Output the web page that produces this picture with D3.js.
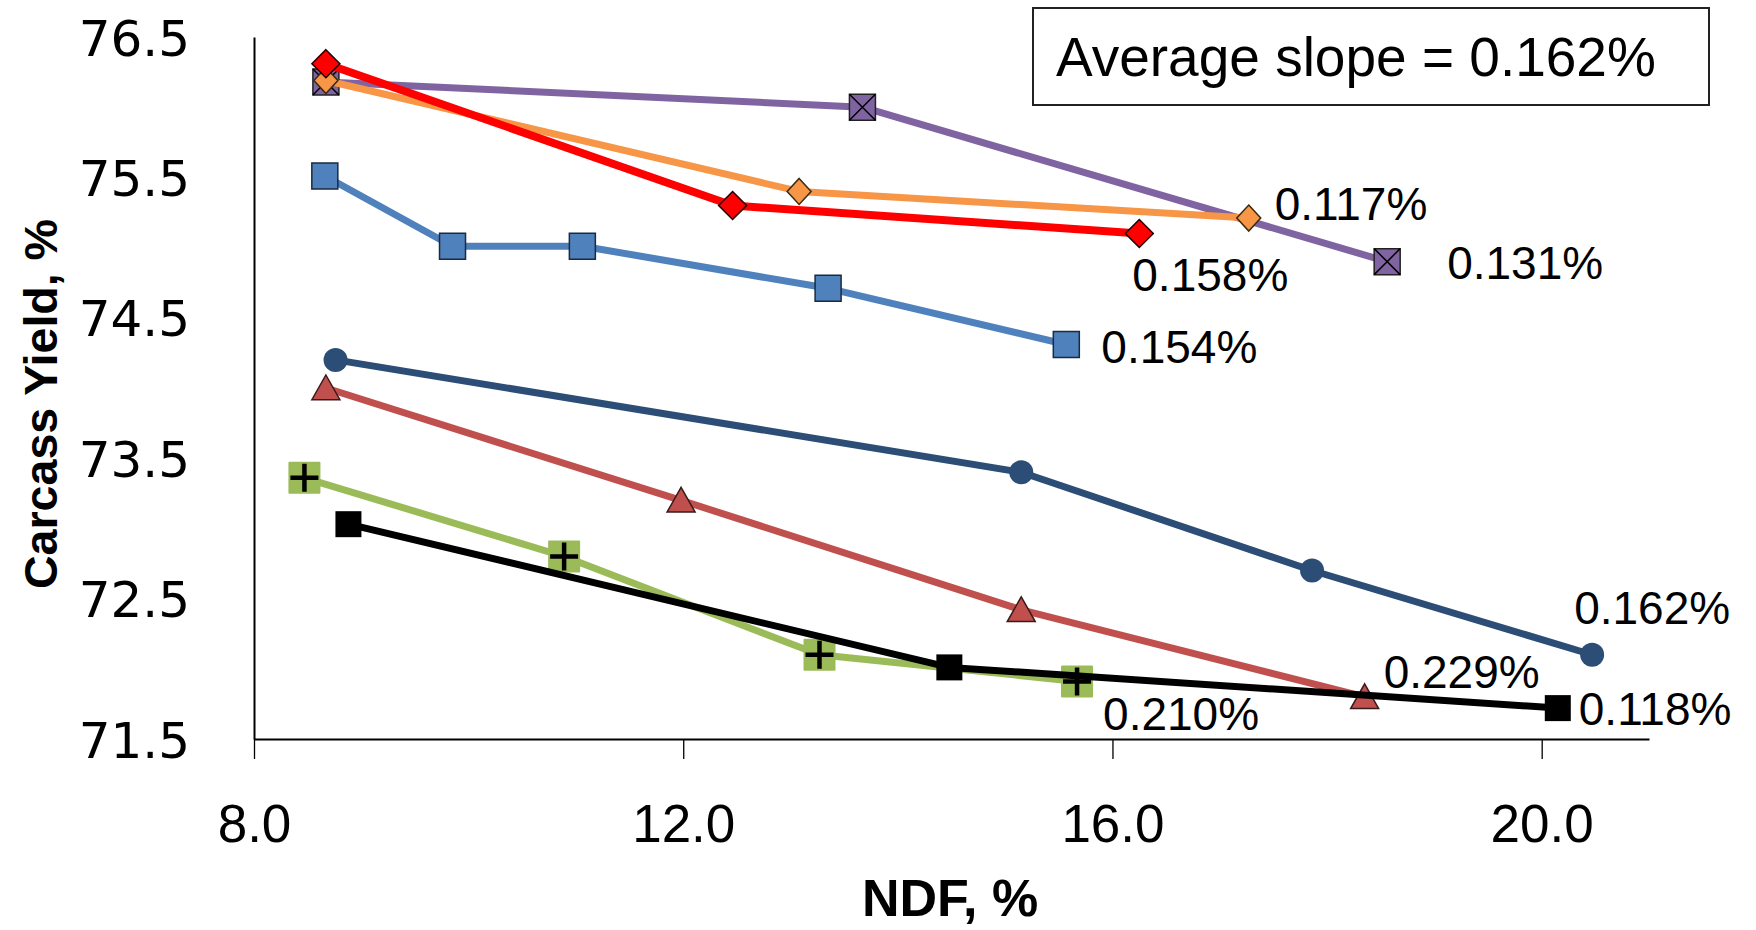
<!DOCTYPE html>
<html><head><meta charset="utf-8">
<script src="https://cdn.jsdelivr.net/npm/d3@7"></script>
<style>html,body{margin:0;padding:0;background:#fff;}svg{display:block;}</style>
</head><body>
<svg id="chart" width="1756" height="930"></svg>
<script>
// ---- data ----
const xTicks = [8, 12, 16, 20];
const yTicks = [71.5, 72.5, 73.5, 74.5, 75.5, 76.5];
const seriesNames = ["darkBlue", "triangle", "green", "black", "blue", "purple", "orange", "red"];
const ndfDarkBlue = [8.76, 15.15, 17.86, 20.47];
const yieldDarkBlue = [74.2, 73.4, 72.7, 72.1];
const ndfTriangle = [8.67, 11.98, 15.15, 18.35];
const yieldTriangle = [74.0, 73.2, 72.42, 71.8];
const ndfGreen = [8.47, 10.89, 13.27, 15.67];
const yieldGreen = [73.36, 72.8, 72.1, 71.91];
const ndfBlack = [8.88, 14.48, 20.15];
const yieldBlack = [73.03, 72.01, 71.72];
const ndfBlue = [8.66, 9.85, 11.06, 13.35, 15.57];
const yieldBlue = [75.51, 75.01, 75.01, 74.71, 74.31];
const ndfPurple = [8.67, 13.67, 18.56];
const yieldPurple = [76.18, 76.0, 74.9];
const ndfOrange = [8.67, 13.08, 17.27];
const yieldOrange = [76.19, 75.4, 75.21];
const ndfRed = [8.67, 12.46, 16.25];
const yieldRed = [76.31, 75.3, 75.1];
const slopeLabels = ["0.162%", "0.229%", "0.210%", "0.118%", "0.154%", "0.131%", "0.117%", "0.158%"];
const averageText = "Average slope = 0.162%";

// ---- styles (separate from data) ----
const styles = {
  darkBlue: {color: "#2C4D75", marker: "circle", w: 12, h: 12, stroke: "none", lw: 7, lx: -18, ly: -31},
  triangle: {color: "#C0504D", marker: "triangle", w: 14, h: 13, stroke: "#3a1a1a", lw: 7, lx: 19, ly: -9},
  green:    {color: "#9BBB59", marker: "plusSquare", w: 15, h: 15, stroke: "none", lw: 7, lx: 26, ly: 49},
  black:    {color: "#000000", marker: "square", w: 13, h: 13, stroke: "none", lw: 7, lx: 21, ly: 17},
  blue:     {color: "#4F81BD", marker: "square", w: 13, h: 13, stroke: "#1b2a3d", lw: 7, lx: 35, ly: 19},
  purple:   {color: "#8064A2", marker: "xSquare", w: 13, h: 13, stroke: "#222", lw: 7, lx: 60, ly: 17},
  orange:   {color: "#F79646", marker: "diamond", w: 12, h: 13, stroke: "#3a2a10", lw: 7, lx: 26, ly: 2},
  red:      {color: "#FF0000", marker: "diamond", w: 14, h: 14, stroke: "#220000", lw: 8, lx: -7, ly: 57}
};
const dataMap = {
  darkBlue: [ndfDarkBlue, yieldDarkBlue], triangle: [ndfTriangle, yieldTriangle],
  green: [ndfGreen, yieldGreen], black: [ndfBlack, yieldBlack], blue: [ndfBlue, yieldBlue],
  purple: [ndfPurple, yieldPurple], orange: [ndfOrange, yieldOrange], red: [ndfRed, yieldRed]
};

const svg = d3.select("#chart");
const x = d3.scaleLinear().domain([8, 21]).range([254, 1649]);
const y = d3.scaleLinear().domain([71.5, 76.5]).range([739, 37]);

// axes
const xAxis = d3.axisBottom(x).tickValues(xTicks).tickSize(20).tickSizeOuter(0).tickFormat(d3.format(".1f"));
const gx = svg.append("g").attr("transform", `translate(0,${y(71.5)})`).call(xAxis);
gx.select(".domain").attr("stroke", "#000").attr("stroke-width", 2);
gx.selectAll(".tick line").attr("stroke", "#000").attr("stroke-width", 1.3);
gx.selectAll(".tick text").attr("font-family", "Liberation Sans, Arial, sans-serif").attr("font-size", 53)
  .attr("fill", "#000").attr("y", 0).attr("dy", 0).attr("transform", "translate(0,103)");

const yAxis = d3.axisLeft(y).tickValues(yTicks).tickSize(0).tickSizeOuter(0).tickFormat(d3.format(".1f"));
const gy = svg.append("g").attr("transform", `translate(${x(8)},0)`).call(yAxis);
gy.select(".domain").attr("stroke", "#000").attr("stroke-width", 2);
gy.selectAll(".tick text").attr("font-family", "DejaVu Sans, Verdana, sans-serif").attr("font-size", 50)
  .attr("fill", "#000").attr("x", -64).attr("dy", "0.36em");

// axis titles
svg.append("text").attr("x", 950).attr("y", 916).attr("text-anchor", "middle")
  .attr("font-family", "Liberation Sans, Arial, sans-serif").attr("font-weight", "bold").attr("font-size", 52)
  .text("NDF, %");
svg.append("text").attr("transform", "translate(57,404) rotate(-90)").attr("text-anchor", "middle")
  .attr("font-family", "Liberation Sans, Arial, sans-serif").attr("font-weight", "bold").attr("font-size", 47)
  .attr("textLength", 370).attr("lengthAdjust", "spacingAndGlyphs")
  .text("Carcass Yield, %");

// markers
function markerPath(type, w, h) {
  const p = d3.path();
  if (type === "square" || type === "plusSquare" || type === "xSquare") {
    p.rect(-w, -h, 2 * w, 2 * h);
  } else if (type === "diamond") {
    p.moveTo(0, -h); p.lineTo(w, 0); p.lineTo(0, h); p.lineTo(-w, 0); p.closePath();
  } else if (type === "triangle") {
    p.moveTo(0, -h); p.lineTo(w, h * 0.9); p.lineTo(-w, h * 0.9); p.closePath();
  } else if (type === "circle") {
    p.arc(0, 0, w, 0, 2 * Math.PI);
  }
  return p.toString();
}

const line = d3.line().x(d => x(d[0])).y(d => y(d[1]));

seriesNames.forEach((name, i) => {
  const st = styles[name];
  const [xs, ys] = dataMap[name];
  const pts = xs.map((v, j) => [v, ys[j]]);
  const g = svg.append("g");
  g.append("path").datum(pts).attr("d", line).attr("fill", "none")
    .attr("stroke", st.color).attr("stroke-width", st.lw).attr("stroke-linejoin", "round");
  const m = g.selectAll("g.m").data(pts).join("g").attr("transform", d => `translate(${x(d[0])},${y(d[1])})`);
  const shape = m.append("path").attr("d", markerPath(st.marker, st.w, st.h)).attr("fill", st.color)
    .attr("stroke", st.stroke).attr("stroke-width", st.stroke === "none" ? 0 : 1.5);
  if (st.marker === "plusSquare") {
    shape.attr("stroke", st.color).attr("stroke-width", 2).attr("stroke-linejoin", "round");
    const a = 14;
    m.append("path").attr("d", `M${-a},0L${a},0M0,${-a}L0,${a}`).attr("stroke", "#000").attr("stroke-width", 4.5);
  }
  if (st.marker === "xSquare") {
    const a = st.w;
    m.append("path").attr("d", `M${-a},${-a}L${a},${a}M${a},${-a}L${-a},${a}`).attr("stroke", "#000").attr("stroke-width", 1.5);
  }
  const last = pts[pts.length - 1];
  svg.append("text").attr("x", x(last[0]) + st.lx).attr("y", y(last[1]) + st.ly)
    .attr("font-family", "Liberation Sans, Arial, sans-serif").attr("font-size", 46).attr("fill", "#000")
    .text(slopeLabels[i]);
});

// legend box
svg.append("rect").attr("x", 1033).attr("y", 8).attr("width", 676).attr("height", 97)
  .attr("fill", "#fff").attr("stroke", "#222").attr("stroke-width", 2);
svg.append("text").attr("x", 1056).attr("y", 76)
  .attr("font-family", "Liberation Sans, Arial, sans-serif").attr("font-size", 55).attr("fill", "#000")
  .text(averageText);
</script>
</body></html>
